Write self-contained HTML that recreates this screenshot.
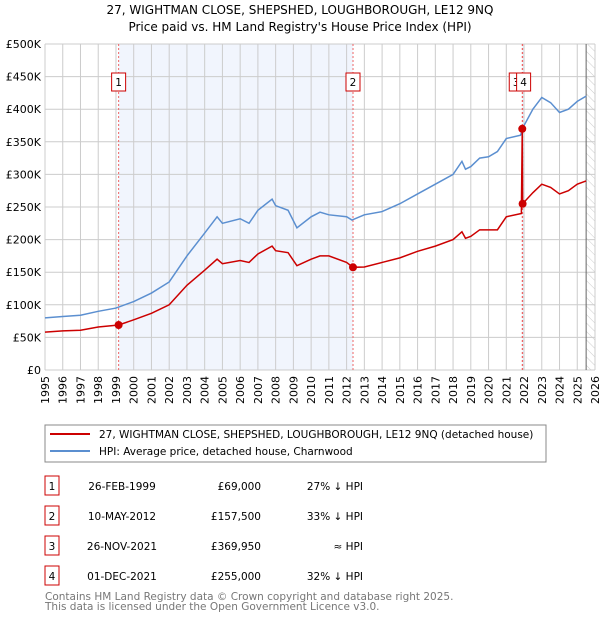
<!DOCTYPE html>
<html><head><meta charset="utf-8"><style>
body{margin:0;width:600px;height:620px;background:#fff;font-family:"DejaVu Sans","Liberation Sans",sans-serif;overflow:hidden}
svg text{font-family:"DejaVu Sans","Liberation Sans",sans-serif}
</style></head><body>
<svg id="c" width="600" height="620">
<defs><pattern id="hatch" width="6" height="6" patternUnits="userSpaceOnUse" patternTransform="rotate(-45)"><line x1="0" y1="0" x2="0" y2="6" stroke="#ccc" stroke-width="1"/></pattern></defs>
<text x="300" y="14" text-anchor="middle" font-size="12">27, WIGHTMAN CLOSE, SHEPSHED, LOUGHBOROUGH, LE12 9NQ</text>
<text x="300" y="31" text-anchor="middle" font-size="12">Price paid vs. HM Land Registry's House Price Index (HPI)</text>
<g id="plot"></g>
<g>
<rect x="45" y="425" width="501" height="37" fill="#fff" stroke="#888"/>
<line x1="50" y1="434" x2="90" y2="434" stroke="#cc0000" stroke-width="2"/>
<text x="99" y="438" font-size="10.5">27, WIGHTMAN CLOSE, SHEPSHED, LOUGHBOROUGH, LE12 9NQ (detached house)</text>
<line x1="50" y1="451" x2="90" y2="451" stroke="#5b8fd0" stroke-width="2"/>
<text x="99" y="455" font-size="10.5">HPI: Average price, detached house, Charnwood</text>
</g>
<g id="table" font-size="10.5"></g>
<text x="45" y="600" font-size="10.5" fill="#777">Contains HM Land Registry data © Crown copyright and database right 2025.</text>
<text x="45" y="610" font-size="10.5" fill="#777">This data is licensed under the Open Government Licence v3.0.</text>
</svg>
<script>
const hpiYears=[1995,1996,1997,1998,1999,2000,2001,2002,2003,2004,2004.7,2005,2006,2006.5,2007,2007.8,2008,2008.7,2009.2,2010,2010.5,2011,2012,2012.3,2013,2014,2015,2016,2017,2018,2018.5,2018.7,2019,2019.5,2020,2020.5,2021,2021.8,2022,2022.5,2023,2023.5,2024,2024.5,2025,2025.5];
const hpiValues=[80,82,84,90,95,105,118,135,175,210,235,225,232,225,245,262,252,245,218,235,242,238,235,230,238,243,255,270,285,300,320,308,312,325,327,335,355,360,375,400,418,410,395,400,412,420];
const redYears=[1995,1996,1997,1998,1999.15,2000,2001,2002,2003,2004,2004.7,2005,2006,2006.5,2007,2007.8,2008,2008.7,2009.2,2010,2010.5,2011,2012,2012.36,2013,2014,2015,2016,2017,2018,2018.5,2018.7,2019,2019.5,2020,2020.5,2021,2021.85,2021.9,2021.92,2022.5,2023,2023.5,2024,2024.5,2025,2025.5];
const redValues=[58,60,61,66,69,77,87,100,130,153,170,163,168,165,178,190,183,180,160,170,175,175,165,157.5,158,165,172,182,190,200,212,202,205,215,215,215,235,240,369.95,255,272,285,280,270,275,285,290];
const saleLabels=["1","2","3","4"];
const saleDates=[1999.15,2012.36,2021.9,2021.92];
const salePrices=[69,157.5,369.95,255];
const saleDateText=["26-FEB-1999","10-MAY-2012","26-NOV-2021","01-DEC-2021"];
const salePriceText=["£69,000","£157,500","£369,950","£255,000"];
const saleHpiText=["27% ↓ HPI","33% ↓ HPI","≈ HPI","32% ↓ HPI"];
const yTicks=[0,50,100,150,200,250,300,350,400,450,500];
const yTickLabels=["£0","£50K","£100K","£150K","£200K","£250K","£300K","£350K","£400K","£450K","£500K"];
const xTicks=[];for(let y=1995;y<=2026;y++)xTicks.push(y);

const NS="http://www.w3.org/2000/svg";
const X0=45,X1=595,Y0=370,Y1=44;
const xs=v=>X0+(v-1995)/31*(X1-X0);
const ys=v=>Y0-v/500*(Y0-Y1);
function el(t,a,p){const e=document.createElementNS(NS,t);for(const k in a)e.setAttribute(k,a[k]);p.appendChild(e);return e;}
const g=document.getElementById('plot');
let e;
e=el('rect',{x:xs(saleDates[0]),y:Y1,width:xs(saleDates[1])-xs(saleDates[0]),height:Y0-Y1,fill:'#eef3fc',opacity:0.8},g);

e=el('rect',{x:xs(saleDates[2]),y:Y1,width:xs(saleDates[3])-xs(saleDates[2])+1,height:Y0-Y1,fill:'#eef3fc'},g);

e=el('rect',{x:xs(2025.5),y:Y1,width:X1-xs(2025.5),height:Y0-Y1,fill:'url(#hatch)'},g);

xTicks.forEach(t=>{el('line',{x1:xs(t),x2:xs(t),y1:Y1,y2:Y0,stroke:'#ccc'},g);
 const tx=el('text',{x:0,y:0,'font-size':11,'text-anchor':'end',transform:`translate(${xs(t)+4},${Y0+6}) rotate(-90)`},g);tx.textContent=t;
 });
yTicks.forEach((t,i)=>{el('line',{x1:X0,x2:X1,y1:ys(t),y2:ys(t),stroke:'#ccc'},g);
 const tx=el('text',{x:X0-4,y:ys(t)+4,'font-size':11,'text-anchor':'end'},g);tx.textContent=yTickLabels[i];
 });
el('line',{x1:xs(2025.5),x2:xs(2025.5),y1:Y1,y2:Y0,stroke:'#666'},g);
saleDates.forEach((d,i)=>{const l=el('line',{x1:xs(d),x2:xs(d),y1:Y1,y2:Y0,stroke:'#e66','stroke-dasharray':'2,2'},g);
 });
e=el('polyline',{points:hpiYears.map((y,i)=>xs(y)+','+ys(hpiValues[i])).join(' '),fill:'none',stroke:'#5b8fd0','stroke-width':1.5},g);

e=el('polyline',{points:redYears.map((y,i)=>xs(y)+','+ys(redValues[i])).join(' '),fill:'none',stroke:'#cc0000','stroke-width':1.5},g);

saleDates.forEach((d,i)=>{const c=el('circle',{cx:xs(d),cy:ys(salePrices[i]),r:4,fill:'#cc0000'},g);
 
 const bx=xs(d)+(i==2?-6:i==3?1:0)-(i<2?7:0);
 const r=el('rect',{x:bx-(i>=2?7:0),y:73,width:14,height:18,fill:'#fff',stroke:'#cc0000'},g);
 
 const t=el('text',{x:bx-(i>=2?7:0)+7,y:86,'font-size':10.5,'text-anchor':'middle'},g);t.textContent=saleLabels[i];
 });
const tb=document.getElementById('table');
saleLabels.forEach((s,i)=>{const y=486+i*30;
 const r=el('rect',{x:45,y:y-10,width:14,height:19,fill:'#fff',stroke:'#cc0000'},tb);
 let t=el('text',{x:52,y:y+4,'text-anchor':'middle'},tb);t.textContent=s;
 t=el('text',{x:122,y:y+4,'text-anchor':'middle'},tb);t.textContent=saleDateText[i];
 t=el('text',{x:261,y:y+4,'text-anchor':'end'},tb);t.textContent=salePriceText[i];
 t=el('text',{x:363,y:y+4,'text-anchor':'end'},tb);t.textContent=saleHpiText[i];});
</script>
</body></html>
